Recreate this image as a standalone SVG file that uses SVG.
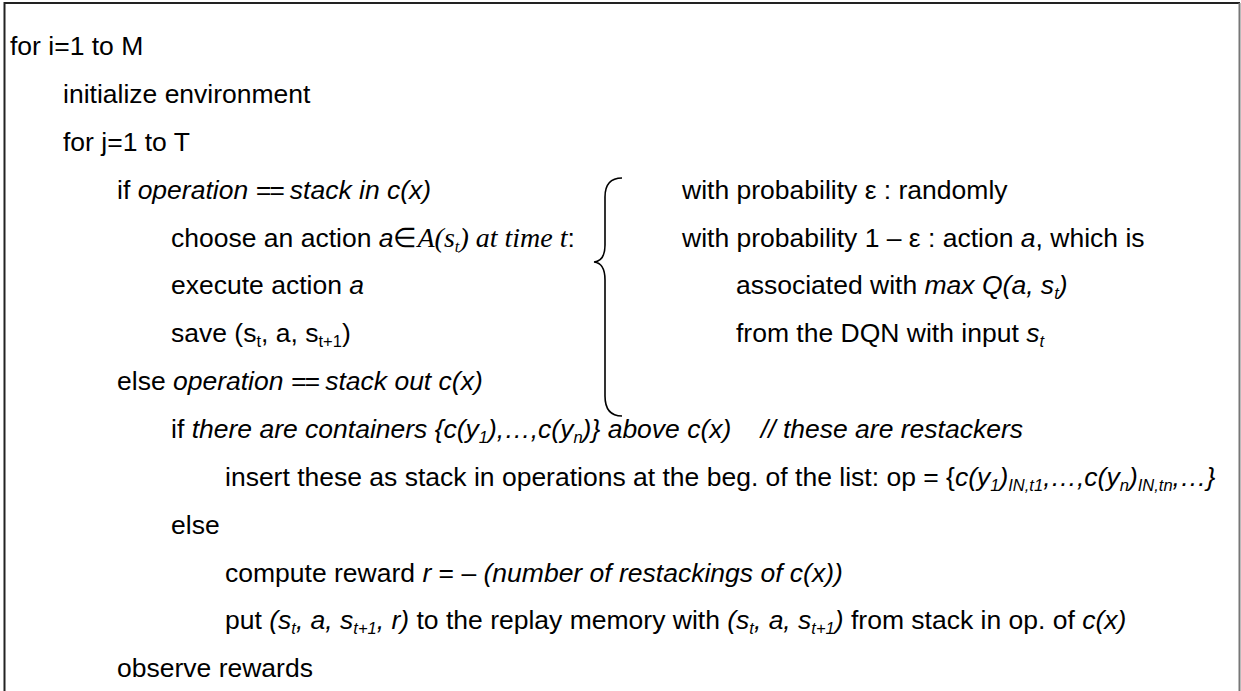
<svg xmlns="http://www.w3.org/2000/svg" width="1241" height="691" viewBox="0 0 1241 691">
<style>
  text { font-family: "Liberation Sans", Arial, sans-serif; font-size: 26.5px; fill: #000; white-space: pre; }
  .i { font-style: italic; }
  .eq { letter-spacing: -2px; }
  .tm { font-family: "Liberation Serif", "Times New Roman", serif; font-style: italic; font-size: 28px; }
  .sb { font-size: 16.5px; }
</style>
<rect x="0" y="0" width="1241" height="691" fill="#fff"/>
<g id="frame" fill="none">
  <path d="M4.5 691 V3 H1240" stroke="#222" stroke-width="2"/>
  <path d="M1239.5 3 V691" stroke="#777" stroke-width="2"/>
</g>
<g id="brace">
  <path d="M622 178 Q605 178 605 197 L605 245 Q605 261 594 262 Q605 263 605 280 L605 396 Q605 416 622 416" fill="none" stroke="#000" stroke-width="1.6"/>
</g>
<g id="code">
  <text x="10" y="55">for i=1 to M</text>
  <text x="63" y="103">initialize environment</text>
  <text x="63" y="151">for j=1 to T</text>
  <text x="117" y="199">if <tspan class="i">operation <tspan class="eq">==</tspan> stack in c(x)</tspan></text>
  <text x="171" y="247">choose an action <tspan class="i">a</tspan>∈<tspan class="tm">A(s<tspan class="sb" dy="5">t</tspan><tspan dy="-5">) at time t</tspan></tspan>:</text>
  <text x="171" y="294">execute action <tspan class="i">a</tspan></text>
  <text x="171" y="342">save (s<tspan class="sb" dy="5">t</tspan><tspan dy="-5">, a, s</tspan><tspan class="sb" dy="5">t+1</tspan><tspan dy="-5">)</tspan></text>
  <text x="117" y="390">else <tspan class="i">operation <tspan class="eq">==</tspan> stack out c(x)</tspan></text>
  <text x="171" y="438">if <tspan class="i">there are containers {c(y<tspan class="sb" dy="5">1</tspan><tspan dy="-5">),…,c(y</tspan><tspan class="sb" dy="5">n</tspan><tspan dy="-5">)} above c(x)    // these are restackers</tspan></tspan></text>
  <text x="225" y="486">insert these as stack in operations at the beg. of the list: op = {<tspan class="i">c(y<tspan class="sb" dy="5">1</tspan><tspan dy="-5">)</tspan><tspan class="sb" dy="5">IN,t1</tspan><tspan dy="-5">,…,c(y</tspan><tspan class="sb" dy="5">n</tspan><tspan dy="-5">)</tspan><tspan class="sb" dy="5">IN,tn</tspan><tspan dy="-5">,…}</tspan></tspan></text>
  <text x="171" y="534">else</text>
  <text x="225" y="582">compute reward <tspan class="i">r</tspan> = – <tspan class="i">(number of restackings of c(x))</tspan></text>
  <text x="225" y="629">put <tspan class="i">(s<tspan class="sb" dy="5">t</tspan><tspan dy="-5">, a, s</tspan><tspan class="sb" dy="5">t+1</tspan><tspan dy="-5">, r)</tspan></tspan> to the replay memory with <tspan class="i">(s<tspan class="sb" dy="5">t</tspan><tspan dy="-5">, a, s</tspan><tspan class="sb" dy="5">t+1</tspan><tspan dy="-5">)</tspan></tspan> from stack in op. of <tspan class="i">c(x)</tspan></text>
  <text x="117" y="677">observe rewards</text>
</g>
<g id="choices">
  <text x="682" y="199">with probability ε : randomly</text>
  <text x="682" y="247">with probability 1 – ε : action <tspan class="i">a</tspan>, which is</text>
  <text x="736" y="294">associated with <tspan class="i">max Q(a, s<tspan class="sb" dy="5">t</tspan><tspan dy="-5">)</tspan></tspan></text>
  <text x="736" y="342">from the DQN with input <tspan class="i">s<tspan class="sb" dy="5">t</tspan></tspan></text>
</g>
</svg>
